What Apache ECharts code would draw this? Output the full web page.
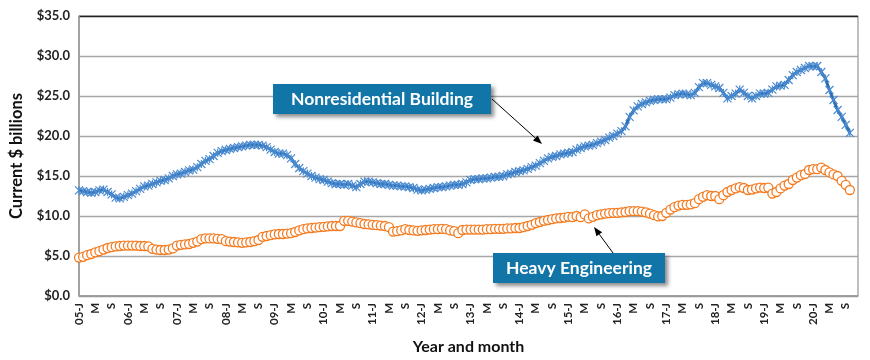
<!DOCTYPE html>
<html>
<head>
<meta charset="utf-8">
<script src="https://cdn.jsdelivr.net/npm/echarts@6/dist/echarts.min.js"></script>
<style>
html,body{margin:0;padding:0;background:#fff;}
#c{width:870px;height:360px;}
</style>
</head>
<body>
<div id="c"></div>
<script>
// Categories: Jan 2005 .. Dec 2020 (monthly)
var startYear = 2005, endYear = 2020;
var categories = [];
for (var y = startYear; y <= endYear; y++) {
  for (var m = 1; m <= 12; m++) categories.push(y + '-' + (m < 10 ? '0' + m : m));
}
var monthLetters = ['J','F','M','A','M','J','J','A','S','O','N','D'];

// Nonresidential Building, Jan 2005 .. Oct 2020 ($ billions)
var nonresidential = [
  13.2, 13.1, 13.0, 12.9, 13.0, 13.2, 13.3, 13.0, 12.7, 12.3, 12.2, 12.4,
  12.6, 12.8, 13.1, 13.4, 13.7, 13.8, 14.0, 14.2, 14.4, 14.5, 14.7, 15.0,
  15.2, 15.3, 15.5, 15.7, 15.8, 16.1, 16.5, 16.9, 17.1, 17.5, 17.9, 18.1,
  18.25, 18.4, 18.5, 18.6, 18.7, 18.8, 18.9, 18.9, 18.9, 18.8, 18.6, 18.3,
  18.0, 17.8, 17.8, 17.6, 17.2, 16.5, 16.0, 15.6, 15.3, 15.0, 14.8, 14.6,
  14.5, 14.3, 14.1, 14.0, 14.0, 13.9, 14.0, 13.8, 13.6, 14.0, 14.3, 14.3,
  14.2, 14.1, 14.0, 14.0, 13.9, 13.8, 13.8, 13.7, 13.7, 13.6, 13.5, 13.3,
  13.2, 13.3, 13.4, 13.5, 13.6, 13.6, 13.7, 13.8, 13.9, 13.9, 14.0, 14.2,
  14.5, 14.6, 14.6, 14.7, 14.7, 14.8, 14.9, 14.9, 15.0, 15.2, 15.3, 15.5,
  15.6, 15.7, 15.9, 16.1, 16.3, 16.6, 16.9, 17.2, 17.4, 17.5, 17.7, 17.8,
  17.9, 18.0, 18.3, 18.5, 18.7, 18.8, 18.9, 19.1, 19.3, 19.5, 19.8, 20.0,
  20.3, 20.6, 21.2, 22.4, 23.2, 23.7, 24.0, 24.2, 24.4, 24.5, 24.6, 24.6,
  24.6, 24.8, 25.1, 25.2, 25.3, 25.2, 25.1, 25.4, 26.1, 26.6, 26.6, 26.4,
  26.2, 26.0, 25.4, 24.7, 25.0, 25.3, 25.8, 25.4, 25.0, 24.7, 25.0, 25.3,
  25.3, 25.4, 25.8, 26.2, 26.3, 26.4, 27.0, 27.6, 28.0, 28.25, 28.5, 28.75,
  28.7, 28.75, 28.0, 27.2, 25.75, 24.5, 23.25, 22.4, 21.4, 20.4
];

// Heavy Engineering, Jan 2005 .. Oct 2020 ($ billions)
var heavyEngineering = [
  4.8, 4.9, 5.1, 5.25, 5.45, 5.6, 5.8, 6.0, 6.1, 6.2, 6.25, 6.3,
  6.3, 6.3, 6.3, 6.25, 6.25, 6.2, 5.9, 5.8, 5.75, 5.75, 5.8, 5.95,
  6.3, 6.4, 6.45, 6.5, 6.65, 6.8, 7.1, 7.2, 7.2, 7.2, 7.15, 7.1,
  6.85, 6.8, 6.75, 6.7, 6.65, 6.7, 6.75, 6.85, 7.0, 7.4, 7.5, 7.6,
  7.7, 7.75, 7.75, 7.8, 7.85, 8.0, 8.2, 8.35, 8.45, 8.5, 8.55, 8.6,
  8.65, 8.7, 8.75, 8.75, 8.75, 9.4, 9.4, 9.3, 9.2, 9.1, 9.0, 8.95,
  8.9, 8.85, 8.8, 8.75, 8.6, 8.05, 8.1, 8.2, 8.35, 8.25, 8.2, 8.15,
  8.2, 8.25, 8.3, 8.35, 8.35, 8.4, 8.35, 8.2, 8.1, 7.85, 8.25, 8.3,
  8.3, 8.3, 8.3, 8.3, 8.35, 8.35, 8.4, 8.4, 8.4, 8.45, 8.45, 8.5,
  8.5, 8.6, 8.75, 8.9, 9.1, 9.25, 9.4, 9.5, 9.6, 9.7, 9.75, 9.8,
  9.9, 9.85, 10.0, 9.85, 10.2, 9.7, 9.9, 10.1, 10.2, 10.3, 10.35, 10.4,
  10.4, 10.45, 10.5, 10.6, 10.6, 10.6, 10.55, 10.45, 10.3, 10.1, 9.95, 10.0,
  10.4, 10.8, 11.1, 11.3, 11.4, 11.4, 11.45, 11.6, 12.1, 12.4, 12.6, 12.5,
  12.5, 12.1, 12.6, 13.0, 13.25, 13.45, 13.6, 13.5, 13.25, 13.3, 13.45, 13.55,
  13.5, 13.55, 12.8, 13.0, 13.45, 13.8, 14.0, 14.5, 14.8, 15.1, 15.25, 15.75,
  15.85, 15.85, 16.05, 15.75, 15.45, 15.2, 15.0, 14.4, 13.9, 13.25
];

var yTicks = [0, 5, 10, 15, 20, 25, 30, 35];
var seriesNames = ['Nonresidential Building', 'Heavy Engineering'];

var FONT = 'Lato, "Open Sans", sans-serif';
var chart = echarts.init(document.getElementById('c'), null, {renderer: 'canvas'});

function arrow(x1, y1, x2, y2) {
  var dx = x2 - x1, dy = y2 - y1, L = Math.sqrt(dx*dx + dy*dy);
  var ux = dx / L, uy = dy / L, hl = 9, hw = 3.5;
  var bx = x2 - ux*hl, by = y2 - uy*hl;
  return [
    {type: 'line', shape: {x1: x1, y1: y1, x2: bx, y2: by}, style: {stroke: '#000', lineWidth: 1}, z: 100},
    {type: 'polygon', shape: {points: [[x2, y2], [bx - uy*hw, by + ux*hw], [bx + uy*hw, by - ux*hw]]}, style: {fill: '#000'}, z: 100}
  ];
}
function labelBox(x, y, w, h, text) {
  return [
    {type: 'rect', shape: {x: x, y: y, width: w, height: h}, style: {fill: '#1275a7', shadowColor: 'rgba(0,0,0,0.45)', shadowBlur: 4, shadowOffsetX: 3, shadowOffsetY: 3}, z: 100},
    {type: 'text', x: x + w/2, y: y + h/2, style: {text: text, fill: '#fff', font: 'bold 17.5px ' + FONT, textAlign: 'center', textVerticalAlign: 'middle'}, z: 101}
  ];
}

var graphics = [].concat(
  labelBox(273, 84, 218, 30, seriesNames[0]),
  arrow(492, 99, 542, 144),
  labelBox(493, 253, 172, 30, seriesNames[1]),
  arrow(613, 253, 594, 227)
);

chart.setOption({
  animation: false,
  backgroundColor: '#fff',
  grid: {left: 78, right: 12, top: 16, bottom: 63, show: true, borderColor: '#808080', borderWidth: 1},
  xAxis: {
    type: 'category',
    data: categories,
    boundaryGap: false,
    name: 'Year and month',
    nameLocation: 'middle',
    nameGap: 43,
    nameTextStyle: {fontFamily: FONT, fontWeight: 'bold', fontSize: 16, color: '#111'},
    axisLine: {lineStyle: {color: '#999', width: 1.5}},
    axisTick: {show: false},
    axisLabel: {
      interval: 3,
      rotate: 90,
      margin: 7,
      fontFamily: FONT,
      fontSize: 11.5,
      fontWeight: 'bold',
      color: '#222',
      formatter: function (v) {
        var p = v.split('-'), mi = parseInt(p[1], 10) - 1;
        return mi === 0 ? p[0].slice(2) + '-' + monthLetters[mi] : monthLetters[mi];
      }
    },
    splitLine: {show: false}
  },
  yAxis: {
    type: 'value',
    min: yTicks[0],
    max: yTicks[yTicks.length - 1],
    interval: yTicks[1] - yTicks[0],
    name: 'Current $ billions',
    nameLocation: 'middle',
    nameGap: 54,
    nameTextStyle: {fontFamily: FONT, fontWeight: 'bold', fontSize: 16.5, color: '#111'},
    axisLine: {show: true, lineStyle: {color: '#999', width: 1.5}},
    axisTick: {show: false},
    axisLabel: {
      margin: 9,
      fontFamily: FONT,
      fontSize: 13,
      fontWeight: 'bold',
      color: '#222',
      formatter: function (v) { return '$' + v.toFixed(1); }
    },
    splitLine: {lineStyle: {color: ['#999','#a6a6a6','#a6a6a6','#a6a6a6','#a6a6a6','#a6a6a6','#a6a6a6','#222'], width: 1.3}}
  },
  series: [
    {
      name: seriesNames[1],
      type: 'line',
      data: heavyEngineering,
      symbol: 'circle',
      symbolSize: 9,
      showAllSymbol: true,
      lineStyle: {opacity: 0},
      itemStyle: {color: '#fff', borderColor: '#f47b20', borderWidth: 1.3},
      z: 2
    },
    {
      name: seriesNames[0],
      type: 'line',
      data: nonresidential,
      symbol: 'path://M0,0L10,10M10,0L0,10M5,0L5,10',
      symbolSize: 8,
      showAllSymbol: true,
      lineStyle: {color: '#2a6cb2', width: 3},
      itemStyle: {color: '#4a8ad0', borderColor: '#4a8ad0', borderWidth: 1.2},
      z: 3
    }
  ],
  graphic: graphics
});
</script>
</body>
</html>
